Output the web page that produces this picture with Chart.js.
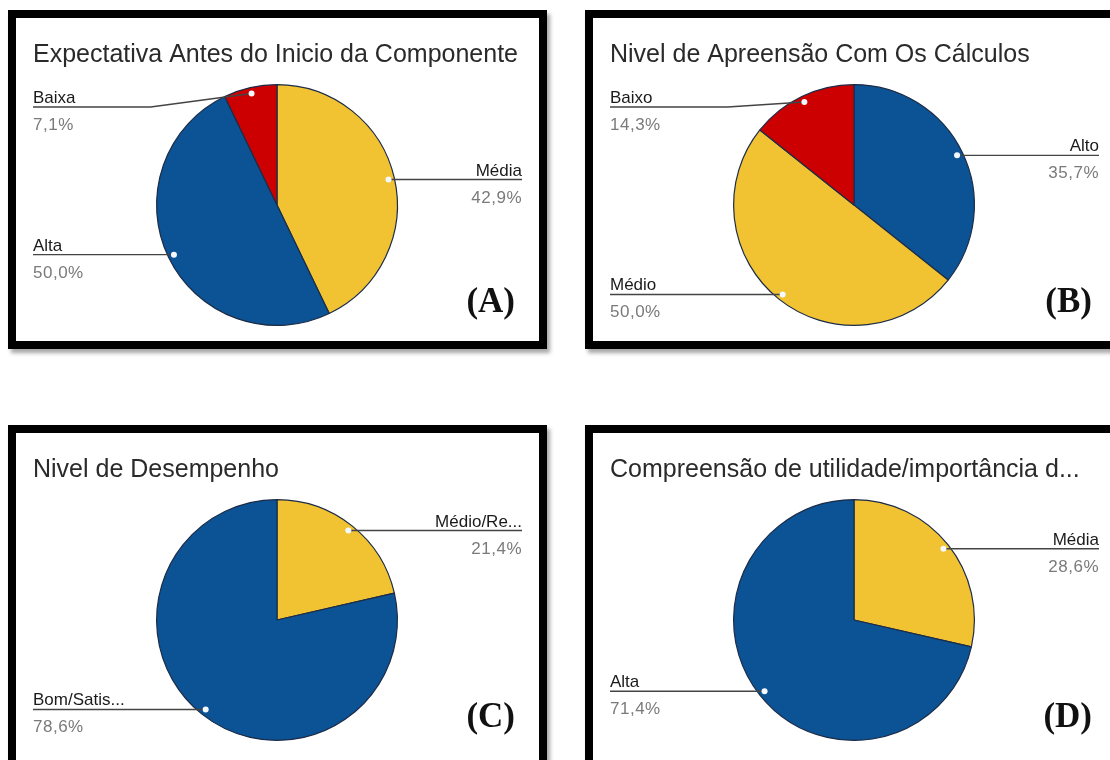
<!DOCTYPE html>
<html>
<head>
<meta charset="utf-8">
<script src="https://cdn.jsdelivr.net/npm/chart.js@4.4.1/dist/chart.umd.min.js"></script>
<style>
  body { margin: 0; width: 1110px; height: 760px; overflow: hidden; position: relative; background: #fff; }
  .panel { position: absolute; border: 8px solid #000; background: #fff; box-shadow: 3px 4px 4px rgba(0, 0, 0, 0.35); }
  .panel canvas { display: block; }
</style>
</head>
<body>
<div class="panel" style="left:8px;top:10px;width:523px;height:323px"><canvas id="chartA"></canvas></div>
<div class="panel" style="left:585px;top:10px;width:523px;height:323px"><canvas id="chartB"></canvas></div>
<div class="panel" style="left:8px;top:425px;width:523px;height:345px"><canvas id="chartC"></canvas></div>
<div class="panel" style="left:585px;top:425px;width:523px;height:345px"><canvas id="chartD"></canvas></div>

<script>
const YELLOW = "#f1c232";
const BLUE = "#0b5394";
const RED = "#cc0000";

// (A) respostas de 14 alunos
const titleA = "Expectativa Antes do Inicio da Componente";
const labelsA = ["Média", "Alta", "Baixa"];
const valuesA = [6, 7, 1];
const colorsA = [YELLOW, BLUE, RED];

// (B)
const titleB = "Nivel de Apreensão Com Os Cálculos";
const labelsB = ["Alto", "Médio", "Baixo"];
const valuesB = [5, 7, 2];
const colorsB = [BLUE, YELLOW, RED];

// (C)
const titleC = "Nivel de Desempenho";
const labelsC = ["Médio/Re...", "Bom/Satis..."];
const valuesC = [3, 11];
const colorsC = [YELLOW, BLUE];

// (D)
const titleD = "Compreensão de utilidade/importância d...";
const labelsD = ["Média", "Alta"];
const valuesD = [4, 10];
const colorsD = [YELLOW, BLUE];

const SANS = '"Liberation Sans", Arial, sans-serif';

// titles, leader-line labels and the panel letter
const leaderLabels = {
  id: "leaderLabels",
  afterDraw(chart, args, opts) {
    const ctx = chart.ctx;
    const meta = chart.getDatasetMeta(0);
    const data = chart.data.datasets[0].data;
    const total = data.reduce((a, b) => a + b, 0);
    ctx.save();

    ctx.font = "25px " + SANS;
    ctx.fillStyle = "#2a2a2a";
    ctx.textAlign = "left";
    ctx.textBaseline = "alphabetic";
    ctx.fillText(opts.title, 17, 44);

    meta.data.forEach((arc, i) => {
      const p = arc.getProps(["x", "y", "startAngle", "endAngle", "outerRadius"], true);
      const mid = (p.startAngle + p.endAngle) / 2;
      const dx = p.x + Math.cos(mid) * p.outerRadius * 0.95;
      const dy = p.y + Math.sin(mid) * p.outerRadius * 0.95;
      const right = dx > p.x;
      const ly = Math.max(dy, 89);
      const lx = right ? 506 : 17;
      const bendX = right ? p.x + p.outerRadius : p.x - p.outerRadius - 6;

      ctx.strokeStyle = "#444";
      ctx.lineWidth = 1.4;
      ctx.beginPath();
      ctx.moveTo(lx, ly);
      ctx.lineTo(bendX, ly);
      ctx.lineTo(dx, dy);
      ctx.stroke();

      ctx.beginPath();
      ctx.arc(dx, dy, 3, 0, Math.PI * 2);
      ctx.fillStyle = "#f4f8ff";
      ctx.fill();

      const pct = (data[i] / total * 100).toFixed(1).replace(".", ",") + "%";
      ctx.textAlign = right ? "right" : "left";
      ctx.font = "17px " + SANS;
      ctx.fillStyle = "#1a1a1a";
      ctx.fillText(chart.data.labels[i], lx, ly - 4);
      ctx.fillStyle = "#7a7a7a";
      ctx.letterSpacing = "0.5px";
      ctx.fillText(pct, lx, ly + 23);
      ctx.letterSpacing = "0px";
    });

    ctx.font = 'bold 35px "Liberation Serif", "Times New Roman", serif';
    ctx.fillStyle = "#111";
    ctx.textAlign = "right";
    ctx.fillText(opts.letter, 499, 294);
    ctx.restore();
  },
};

const makePie = (id, title, letter, labels, values, colors) => {
  const ctx = document.getElementById(id).getContext("2d");
  const panel = document.getElementById(id).parentNode;
  const cx = 261, cy = 187, r = 121;
  return new Chart(ctx, {
    type: "pie",
    data: {
      labels: labels,
      datasets: [
        {
          data: values,
          backgroundColor: colors,
          borderColor: "#1c2c48",
          borderWidth: 1.2,
        },
      ],
    },
    options: {
      responsive: true,
      maintainAspectRatio: false,
      animation: false,
      layout: {
        padding: {
          left: cx - r,
          top: cy - r,
          right: panel.clientWidth - cx - r,
          bottom: panel.clientHeight - cy - r,
        },
      },
      plugins: {
        legend: { display: false },
        tooltip: { enabled: false },
        leaderLabels: { title: title, letter: letter },
      },
    },
    plugins: [leaderLabels],
  });
};

makePie("chartA", titleA, "(A)", labelsA, valuesA, colorsA);
makePie("chartB", titleB, "(B)", labelsB, valuesB, colorsB);
makePie("chartC", titleC, "(C)", labelsC, valuesC, colorsC);
makePie("chartD", titleD, "(D)", labelsD, valuesD, colorsD);
</script>
</body>
</html>
